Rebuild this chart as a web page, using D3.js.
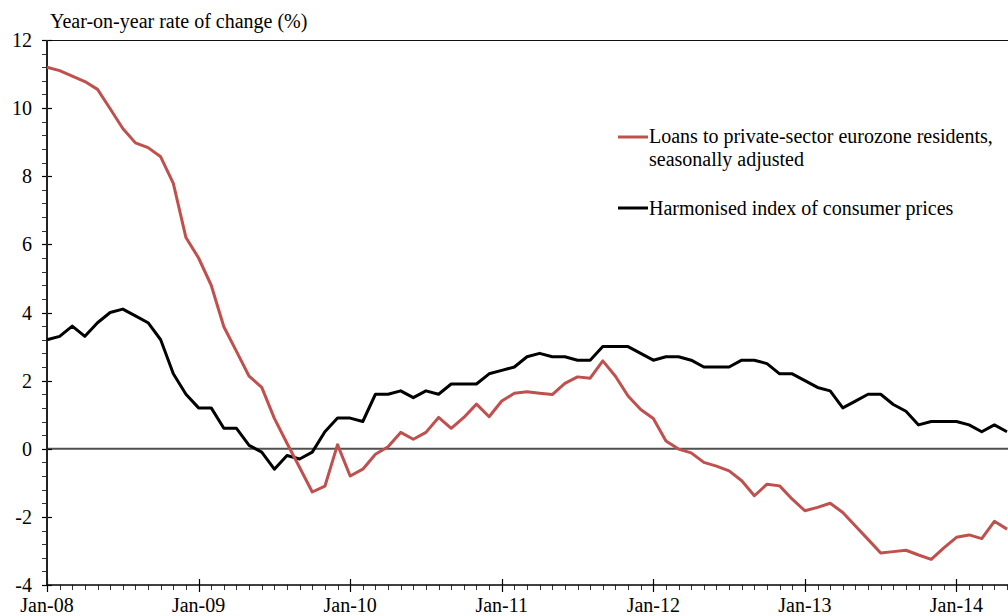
<!DOCTYPE html>
<html>
<head>
<meta charset="utf-8">
<script src="https://cdn.jsdelivr.net/npm/d3@7"></script>
<style>
  html, body { margin: 0; padding: 0; background: #fff; }
  svg { display: block; }
  text { font-family: "Liberation Serif", "Times New Roman", serif; fill: #000; }
</style>
</head>
<body>
<div id="chart"></div>
<script>
// monthly, Jan-08 .. May-14
const loans = [
  11.2, 11.1, 10.94, 10.78, 10.55, 9.98, 9.4, 8.98, 8.84, 8.57, 7.79, 6.2,
  5.6, 4.8, 3.58, 2.86, 2.13, 1.8, 0.89, 0.16, -0.55, -1.27, -1.1, 0.12,
  -0.8, -0.6, -0.16, 0.06, 0.48, 0.28, 0.48, 0.92, 0.6, 0.92, 1.31, 0.94,
  1.4, 1.63, 1.67, 1.63, 1.59, 1.92, 2.11, 2.07, 2.58, 2.13, 1.55, 1.15,
  0.89, 0.23, -0.01, -0.12, -0.4, -0.51, -0.65, -0.94, -1.38, -1.04, -1.09, -1.48,
  -1.82, -1.72, -1.6, -1.87, -2.27, -2.66, -3.06, -3.02, -2.98, -3.12, -3.25, -2.91,
  -2.6, -2.53, -2.64, -2.13, -2.36
];
const hicp = [
  3.2, 3.3, 3.6, 3.3, 3.7, 4.0, 4.1, 3.9, 3.7, 3.2, 2.2, 1.6,
  1.2, 1.2, 0.6, 0.6, 0.1, -0.1, -0.6, -0.2, -0.3, -0.1, 0.5, 0.9,
  0.9, 0.8, 1.6, 1.6, 1.7, 1.5, 1.7, 1.6, 1.9, 1.9, 1.9, 2.2,
  2.3, 2.4, 2.7, 2.8, 2.7, 2.7, 2.6, 2.6, 3.0, 3.0, 3.0, 2.8,
  2.6, 2.7, 2.7, 2.6, 2.4, 2.4, 2.4, 2.6, 2.6, 2.5, 2.2, 2.2,
  2.0, 1.8, 1.7, 1.2, 1.4, 1.6, 1.6, 1.3, 1.1, 0.7, 0.8, 0.8,
  0.8, 0.7, 0.5, 0.7, 0.5
];
const xLabels = ['Jan-08', 'Jan-09', 'Jan-10', 'Jan-11', 'Jan-12', 'Jan-13', 'Jan-14'];
const yTicks = [-4, -2, 0, 2, 4, 6, 8, 10, 12];
const seriesNames = ['Loans to private-sector eurozone residents,', 'seasonally adjusted', 'Harmonised index of consumer prices'];

const width = 1008;
const height = 616;
const margin = { top: 40, right: 1, left: 47, bottom: 31 };
const fontSize = 20;

const svg = d3.select('#chart').append('svg').attr('width', width).attr('height', height);

const x = d3.scaleLinear().domain([0, loans.length - 1]).range([margin.left, width - margin.right]);
const y = d3.scaleLinear().domain([-4, 12]).range([height - margin.bottom, margin.top]);

const x0 = margin.left;
const yb = y(-4);

// top frame line
svg.append('line')
  .attr('x1', x0).attr('x2', width).attr('y1', y(12) + 0.5).attr('y2', y(12) + 0.5)
  .attr('stroke', '#111').attr('stroke-width', 1);

// zero line
svg.append('line')
  .attr('x1', x0).attr('x2', width).attr('y1', y(0)).attr('y2', y(0))
  .attr('stroke', '#505050').attr('stroke-width', 2);

// y minor ticks (every 0.4)
const yMinor = d3.range(0, 41).map((k) => -4 + k * 0.4);
svg.append('g').selectAll('line')
  .data(yMinor)
  .enter()
  .append('line')
  .attr('x1', x0 - 5).attr('x2', x0)
  .attr('y1', (d) => Math.round(y(d)) + 0.5).attr('y2', (d) => Math.round(y(d)) + 0.5)
  .attr('stroke', '#333').attr('stroke-width', 1);

// y major ticks + labels
const yAxis = svg.append('g');
yAxis.selectAll('line')
  .data(yTicks)
  .enter()
  .append('line')
  .attr('x1', x0 - 5).attr('x2', x0 + 5)
  .attr('y1', (d) => Math.round(y(d)) + 0.5).attr('y2', (d) => Math.round(y(d)) + 0.5)
  .attr('stroke', '#000').attr('stroke-width', 1.2);
yAxis.selectAll('text')
  .data(yTicks)
  .enter()
  .append('text')
  .attr('x', 32)
  .attr('y', (d) => y(d) + 7)
  .attr('text-anchor', 'end')
  .attr('font-size', fontSize)
  .text((d) => d);

// x minor ticks (monthly)
const months = d3.range(0, loans.length);
svg.append('g').selectAll('line')
  .data(months)
  .enter()
  .append('line')
  .attr('x1', (d) => Math.round(x(d)) + 0.5).attr('x2', (d) => Math.round(x(d)) + 0.5)
  .attr('y1', yb).attr('y2', yb + 5)
  .attr('stroke', '#333').attr('stroke-width', 1);

// x major ticks + labels
const xAxis = svg.append('g');
xAxis.selectAll('line')
  .data(xLabels)
  .enter()
  .append('line')
  .attr('x1', (d, i) => Math.round(x(i * 12)) + 0.5).attr('x2', (d, i) => Math.round(x(i * 12)) + 0.5)
  .attr('y1', yb - 6).attr('y2', yb + 7)
  .attr('stroke', '#000').attr('stroke-width', 1.2);
xAxis.selectAll('text')
  .data(xLabels)
  .enter()
  .append('text')
  .attr('x', (d, i) => x(i * 12))
  .attr('y', 612)
  .attr('text-anchor', 'middle')
  .attr('font-size', fontSize)
  .text((d) => d);

// axis lines
svg.append('line')
  .attr('x1', x0).attr('x2', x0).attr('y1', y(12)).attr('y2', yb)
  .attr('stroke', '#222').attr('stroke-width', 2);
svg.append('line')
  .attr('x1', x0).attr('x2', width).attr('y1', yb).attr('y2', yb)
  .attr('stroke', '#000').attr('stroke-width', 1.5);

// series
const line = d3.line().x((d, i) => x(i)).y((d) => y(d));
svg.append('path')
  .datum(hicp)
  .attr('d', line)
  .attr('fill', 'none')
  .attr('stroke', '#000')
  .attr('stroke-width', 3)
  .attr('stroke-linejoin', 'round');
svg.append('path')
  .datum(loans)
  .attr('d', line)
  .attr('fill', 'none')
  .attr('stroke', '#c0504d')
  .attr('stroke-width', 3)
  .attr('stroke-linejoin', 'round');

// title
svg.append('text')
  .attr('x', 50).attr('y', 28)
  .attr('font-size', fontSize)
  .text('Year-on-year rate of change (%)');

// legend
const legend = svg.append('g');
legend.append('line')
  .attr('x1', 618).attr('x2', 648).attr('y1', 137).attr('y2', 137)
  .attr('stroke', '#c0504d').attr('stroke-width', 3);
legend.append('text').attr('x', 649).attr('y', 143).attr('font-size', fontSize).text(seriesNames[0]);
legend.append('text').attr('x', 649).attr('y', 166).attr('font-size', fontSize).text(seriesNames[1]);
legend.append('line')
  .attr('x1', 618).attr('x2', 648).attr('y1', 208).attr('y2', 208)
  .attr('stroke', '#000').attr('stroke-width', 3);
legend.append('text').attr('x', 649).attr('y', 215).attr('font-size', fontSize).text(seriesNames[2]);
</script>
</body>
</html>
